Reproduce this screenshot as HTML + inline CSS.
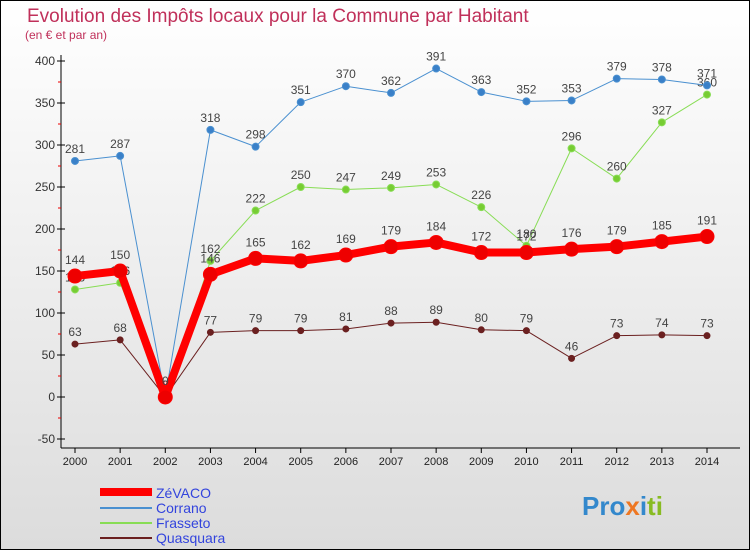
<!DOCTYPE html>
<html><head><meta charset="utf-8"><style>
html,body{margin:0;padding:0}
body{width:750px;height:550px;overflow:hidden;font-family:"Liberation Sans","DejaVu Sans",sans-serif}
</style></head><body>
<svg id="c" width="750" height="550" xmlns="http://www.w3.org/2000/svg">
<defs><linearGradient id="bg" x1="0" y1="0" x2="0" y2="1"><stop offset="0" stop-color="#ffffff"/><stop offset="1" stop-color="#dcdcdc"/></linearGradient></defs>
<rect x="0.5" y="0.5" width="749" height="549" fill="url(#bg)" stroke="#000"/>
<text x="27" y="22" font-size="19" fill="#c0305a">Evolution des Impôts locaux pour la Commune par Habitant</text>
<text x="25" y="39" font-size="12" fill="#c0305a">(en € et par an)</text>
<g id="plot"></g>
<g>
<rect x="100" y="488" width="52" height="8" fill="#ff0000"/>
<text x="156" y="498" font-size="14" fill="#3344dd">ZéVACO</text>
<line x1="100" y1="508" x2="152" y2="508" stroke="#4a90d0" stroke-width="2"/>
<text x="156" y="513" font-size="14" fill="#3344dd">Corrano</text>
<line x1="100" y1="523" x2="152" y2="523" stroke="#88dd55" stroke-width="2"/>
<text x="156" y="528" font-size="14" fill="#3344dd">Frasseto</text>
<line x1="100" y1="538" x2="152" y2="538" stroke="#6b2020" stroke-width="2"/>
<text x="156" y="543" font-size="14" fill="#3344dd">Quasquara</text>
</g>
<text x="582" y="515" font-size="26" font-weight="bold"><tspan fill="#3388cc">Pro</tspan><tspan fill="#ee7722">x</tspan><tspan fill="#3388cc">i</tspan><tspan fill="#88bb22">ti</tspan></text>
</svg>
<script>
const years=[2000,2001,2002,2003,2004,2005,2006,2007,2008,2009,2010,2011,2012,2013,2014];
const yTicks=[-50,0,50,100,150,200,250,300,350,400];
const zevaco=[144,150,0,146,165,162,169,179,184,172,172,176,179,185,191];
const corrano=[281,287,0,318,298,351,370,362,391,363,352,353,379,378,371];
const frasseto=[128,136,0,162,222,250,247,249,253,226,180,296,260,327,360];
const quasquara=[63,68,0,77,79,79,81,88,89,80,79,46,73,74,73];
const NS="http://www.w3.org/2000/svg";
const g=document.getElementById('plot');
const xS=i=>75+i*(707-75)/(years.length-1);
const yS=v=>397-v*(397-61)/400;
function mk(t,a,p){const e=document.createElementNS(NS,t);for(const k in a)e.setAttribute(k,a[k]);(p||g).appendChild(e);return e;}
const ax=mk('line',{x1:61,y1:55,x2:61,y2:448,stroke:'#000'});


const bx=mk('line',{x1:61,y1:448,x2:740,y2:448,stroke:'#000'});


yTicks.forEach(v=>{
 const y=yS(v);
 mk('line',{x1:57,y1:y,x2:65,y2:y,stroke:'#000'});
 const t=mk('text',{x:55,y:y+4,'text-anchor':'end','font-size':12,fill:'#333'});t.textContent=v;
 
 
 if(v<400){const m=yS(v+25);mk('line',{x1:58,y1:m,x2:61,y2:m,stroke:'#e00'});}
});
years.forEach((yr,i)=>{
 const x=xS(i);
 mk('line',{x1:x,y1:448,x2:x,y2:453,stroke:'#000'});
 const t=mk('text',{x:x,y:465,'text-anchor':'middle','font-size':11,fill:'#222'});t.textContent=yr;
 
 
});
function series(d,name,col,w,r,fill,labels){
 const s=mk('g',{});
 
 
 const pl=mk('polyline',{points:d.map((v,i)=>xS(i)+','+yS(v)).join(' '),fill:'none',stroke:col,'stroke-width':w,'stroke-linejoin':'round'},s);
 
 
 d.forEach((v,i)=>{
  const c=mk('circle',{cx:xS(i),cy:yS(v),r:r,fill:fill,stroke:col,'stroke-width':1},s);
  
  
  if(labels){const t=mk('text',{x:xS(i),y:yS(v)-8-(r>5?4:0),'text-anchor':'middle','font-size':12,fill:'#444'},s);t.textContent=v;
  
  }
 });
}
series(quasquara,'quasquara','#6b2020',1,3,'#6b2020',true);
series(frasseto,'frasseto','#88dd55',1,3.5,'#77cc33',true);
series(corrano,'corrano','#4a90d0',1,3.5,'#3a80c8',true);
series(zevaco,'zevaco','#ff0000',8,7,'#ee0000',true);
</script>
</body></html>
